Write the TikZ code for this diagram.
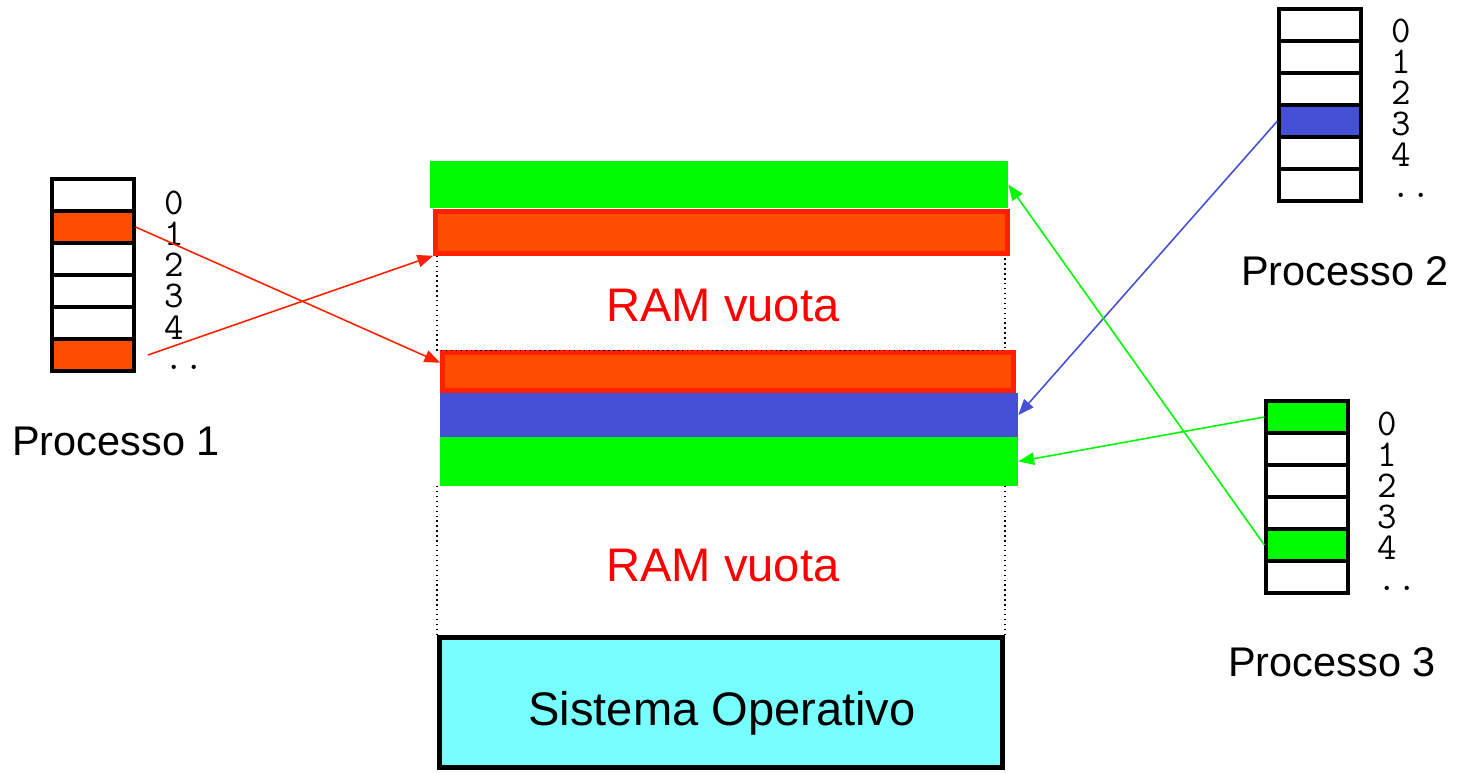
\documentclass[tikz,border=0pt]{standalone}
\usepackage{fontspec}
\setmainfont{Liberation Sans}
\usetikzlibrary{positioning,arrows.meta}
\definecolor{memgreen}{RGB}{0,250,0}
\definecolor{memorange}{RGB}{255,77,0}
\definecolor{memred}{RGB}{255,32,0}
\definecolor{memblue}{RGB}{68,80,214}
\definecolor{oscyan}{RGB}{119,255,255}
\begin{document}
\begin{tikzpicture}[x=0.02cm,y=-0.02cm,
    cell/.style={draw,line width=1.8pt,fill=#1,minimum width=82*0.02cm,minimum height=32*0.02cm,inner sep=0pt},
    idx/.style={anchor=base west,inner sep=0pt,font=\ttfamily\fontsize{21.5}{21.5}\selectfont},
    lbl/.style={font=\fontsize{23.6}{24}\selectfont},
    ram/.style={anchor=base,text=red,font=\fontsize{26.8}{27}\selectfont},
    bar/.style 2 args={minimum width=#1*0.02cm,minimum height=#2*0.02cm,inner sep=0pt},
    link/.style={line width=0.9pt,-{Triangle[length=9pt,width=7pt]}}]
  \useasboundingbox (0,0) rectangle (1460,773);

  % memoria centrale
  \node[bar={578}{47},fill=memgreen] (gA) at (719,184.5) {};
  \node[bar={572}{42},fill=memorange,draw=memred,line width=2.6pt] (oA) at (721.5,232.5) {};
  \node[bar={571}{38},fill=memorange,draw=memred,line width=2.6pt] (oB) at (728,371.5) {};
  \node[bar={578}{44},fill=memblue] (bB) at (729,415) {};
  \node[bar={578}{49},fill=memgreen] (gB) at (729,461.5) {};
  \node[bar={563}{130},fill=oscyan,draw,line width=2.8pt] (os) at (721,702.5) {};
  \node[anchor=base,font=\fontsize{26.8}{27}\selectfont] (ostxt) at (722,725) {Sistema Operativo};

  \draw[dotted,line width=0.8pt] (os.north west |- oA.south) -- (os.north west |- oB.north)
    -- (os.north east |- oB.north) -- (os.north east |- oA.south);
  \draw[dotted,line width=0.8pt] (os.north west) -- (os.north west |- gB.south);
  \draw[dotted,line width=0.8pt] (os.north east) -- (os.north east |- gB.south);

  \node[ram] (ramA) at (723,322) {RAM vuota};
  \node[ram] (ramB) at (723,581) {RAM vuota};

  % tabelle delle pagine
  \foreach \c [count=\i from 0] in {white,memorange,white,white,white,memorange}
    \node[cell=\c] (pa\i) at (93,{195+32*\i}) {};
  \foreach \c [count=\i from 0] in {white,white,white,memblue,white,white}
    \node[cell=\c] (pb\i) at (1320,{25+32*\i}) {};
  \foreach \c [count=\i from 0] in {memgreen,white,white,white,memgreen,white}
    \node[cell=\c] (pc\i) at (1307,{417+32*\i}) {};

  \foreach \t [count=\i from 0] in {0,1,2,3,4,..}
    \node[idx] (na\i) at (164.5,{215+31*\i}) {\t};
  \foreach \t [count=\i from 0] in {0,1,2,3,4,..}
    \node[idx] (nb\i) at (1391.5,{43+31*\i}) {\t};
  \foreach \t [count=\i from 0] in {0,1,2,3,4,..}
    \node[idx] (nc\i) at (1377.5,{435+31*\i}) {\t};

  \node[lbl] (la) at (116,441) {Processo 1};
  \node[lbl] (lb) at (1345,271) {Processo 2};
  \node[lbl] (lc) at (1332,662) {Processo 3};

  % corrispondenze pagine -> memoria
  \draw[link,memred] (pa1.east) -- ([yshift=5pt]oB.west);
  \draw[link,memred] ([xshift=7pt]pa5.east) -- (oA.south west);
  \draw[link,memblue] (pb3.west) -- (bB.east);
  \draw[link,memgreen] (pc0.west) -- (gB.east);
  \draw[link,memgreen] (pc4.west) -- (gA.east);
\end{tikzpicture}
\end{document}
